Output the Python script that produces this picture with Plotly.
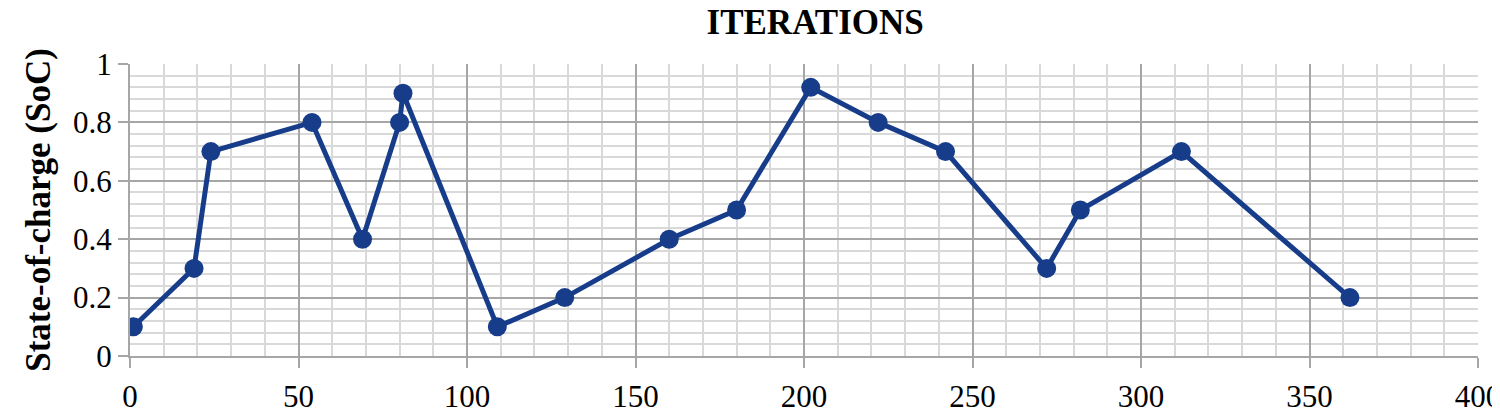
import plotly.graph_objects as go

# Data
iterations = [1, 19, 24, 54, 69, 80, 81, 109, 129, 160, 180, 202, 222, 242, 272, 282, 312, 362]
soc = [0.1, 0.3, 0.7, 0.8, 0.4, 0.8, 0.9, 0.1, 0.2, 0.4, 0.5, 0.92, 0.8, 0.7, 0.3, 0.5, 0.7, 0.2]

x_ticks = [0, 50, 100, 150, 200, 250, 300, 350, 400]
y_ticks = [0, 0.2, 0.4, 0.6, 0.8, 1]
y_ticklabels = ["0", "0.2", "0.4", "0.6", "0.8", "1"]

line_color = "#173d8a"
font_family = "Liberation Serif, Times New Roman, serif"
tick_font = dict(family=font_family, size=31, color="black")

fig = go.Figure(go.Scatter(
    x=iterations,
    y=soc,
    mode="lines+markers",
    line=dict(color=line_color, width=5),
    marker=dict(color=line_color, size=19),
    showlegend=False,
))

# page body has an 8px margin, so the figure is shrunk by 8px and margins shifted
fig.update_layout(
    width=1492,
    height=406,
    plot_bgcolor="white",
    paper_bgcolor="white",
    margin=dict(l=122, r=22, t=56, b=58, autoexpand=False),
    font=dict(family=font_family, size=31, color="black"),
    title=dict(
        text="<b>ITERATIONS</b>",
        x=0.541, xref="container", xanchor="center",
        y=0.965, yref="container", yanchor="middle",
        font=dict(family=font_family, size=35, color="black"),
    ),
)

fig.update_xaxes(
    range=[0, 400],
    tickvals=x_ticks,
    tickfont=tick_font,
    ticks="outside", ticklen=10, tickwidth=2, tickcolor="#a6a6a6",
    ticklabelstandoff=2,
    ticklabeloverflow="allow",
    showgrid=True, gridcolor="#a6a6a6", gridwidth=2,
    minor=dict(dtick=10, showgrid=True, gridcolor="#d9d9d9", gridwidth=1.8),
    showline=True, linecolor="#a6a6a6", linewidth=2,
    zeroline=False,
    automargin=False,
)

fig.update_yaxes(
    range=[0, 1],
    tickvals=y_ticks,
    ticktext=y_ticklabels,
    tickfont=tick_font,
    ticks="outside", ticklen=10, tickwidth=2, tickcolor="#a6a6a6",
    showgrid=True, gridcolor="#a6a6a6", gridwidth=2,
    minor=dict(dtick=0.04, showgrid=True, gridcolor="#d9d9d9", gridwidth=1.8),
    showline=True, linecolor="#a6a6a6", linewidth=2,
    zeroline=False,
    automargin=False,
    title=dict(text="<b>State-of-charge (SoC)</b>", font=dict(family=font_family, size=35), standoff=12),
)

fig.write_html("out.html")
